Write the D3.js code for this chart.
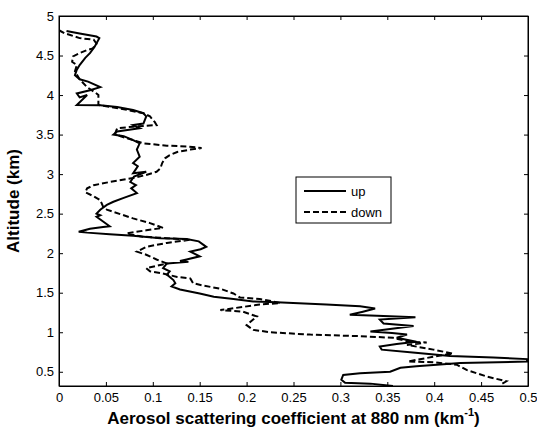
<!DOCTYPE html>
<html>
<head>
  <script type="text/javascript" src="https://cdn.jsdelivr.net/npm/d3@7/dist/d3.min.js"></script>
  <style>
    body { margin: 0; background: #fff; }
    svg { font-family: 'Liberation Sans', Arial, sans-serif; }
  </style>
</head>
<body>
  <svg width="537" height="433"></svg>
<script>
  // "up" profile: scattering coefficient (km-1) and altitude (km), top to bottom
  const upX = [0.008, 0.022, 0.040, 0.043, 0.038, 0.033, 0.028, 0.022, 0.019, 0.017, 0.022, 0.031, 0.044, 0.033, 0.019, 0.022, 0.030, 0.019, 0.044, 0.062, 0.079, 0.090, 0.093, 0.090, 0.079, 0.086, 0.062, 0.058, 0.069, 0.079, 0.086, 0.083, 0.086, 0.079, 0.084, 0.079, 0.093, 0.080, 0.076, 0.082, 0.077, 0.083, 0.069, 0.058, 0.051, 0.044, 0.040, 0.044, 0.040, 0.047, 0.054, 0.047, 0.033, 0.021, 0.030, 0.054, 0.079, 0.108, 0.136, 0.149, 0.157, 0.151, 0.140, 0.150, 0.136, 0.129, 0.138, 0.115, 0.111, 0.118, 0.115, 0.122, 0.124, 0.120, 0.129, 0.150, 0.165, 0.186, 0.207, 0.232, 0.285, 0.321, 0.337, 0.324, 0.310, 0.339, 0.380, 0.342, 0.346, 0.378, 0.332, 0.355, 0.371, 0.360, 0.381, 0.360, 0.342, 0.344, 0.380, 0.417, 0.463, 0.499, 0.499, 0.428, 0.381, 0.364, 0.353, 0.321, 0.303, 0.301, 0.305, 0.332, 0.356];
  const upY = [4.81, 4.78, 4.74, 4.72, 4.61, 4.53, 4.47, 4.38, 4.32, 4.25, 4.20, 4.17, 4.10, 4.06, 4.02, 3.97, 4.00, 3.875, 3.87, 3.85, 3.81, 3.77, 3.73, 3.64, 3.62, 3.58, 3.54, 3.50, 3.48, 3.43, 3.39, 3.31, 3.22, 3.14, 3.10, 3.01, 3.03, 2.97, 2.90, 2.86, 2.82, 2.76, 2.70, 2.65, 2.61, 2.55, 2.50, 2.48, 2.46, 2.40, 2.34, 2.33, 2.31, 2.27, 2.26, 2.24, 2.22, 2.19, 2.18, 2.15, 2.08, 2.05, 2.02, 1.96, 1.92, 1.90, 1.89, 1.87, 1.81, 1.77, 1.73, 1.66, 1.62, 1.58, 1.54, 1.49, 1.45, 1.42, 1.39, 1.38, 1.35, 1.33, 1.30, 1.26, 1.22, 1.21, 1.19, 1.16, 1.11, 1.08, 1.01, 0.99, 0.97, 0.93, 0.88, 0.85, 0.82, 0.78, 0.74, 0.70, 0.68, 0.66, 0.63, 0.61, 0.57, 0.55, 0.50, 0.48, 0.46, 0.40, 0.36, 0.35, 0.32];

  // "down" profile
  const downX = [0.000, 0.006, 0.012, 0.022, 0.037, 0.040, 0.036, 0.030, 0.022, 0.015, 0.014, 0.019, 0.017, 0.022, 0.030, 0.040, 0.042, 0.042, 0.065, 0.090, 0.097, 0.102, 0.104, 0.079, 0.062, 0.060, 0.065, 0.079, 0.090, 0.115, 0.136, 0.152, 0.140, 0.126, 0.118, 0.113, 0.110, 0.108, 0.104, 0.093, 0.079, 0.054, 0.037, 0.030, 0.028, 0.037, 0.044, 0.047, 0.051, 0.079, 0.097, 0.111, 0.093, 0.072, 0.088, 0.115, 0.140, 0.115, 0.093, 0.083, 0.093, 0.104, 0.115, 0.104, 0.093, 0.097, 0.108, 0.126, 0.140, 0.143, 0.154, 0.172, 0.186, 0.193, 0.214, 0.228, 0.236, 0.214, 0.172, 0.196, 0.211, 0.207, 0.200, 0.207, 0.225, 0.268, 0.321, 0.356, 0.374, 0.392, 0.371, 0.399, 0.420, 0.399, 0.372, 0.399, 0.424, 0.435, 0.456, 0.477, 0.470];
  const downY = [4.82, 4.78, 4.76, 4.72, 4.70, 4.65, 4.59, 4.57, 4.53, 4.49, 4.42, 4.38, 4.30, 4.20, 4.10, 4.02, 4.00, 3.875, 3.83, 3.77, 3.73, 3.66, 3.62, 3.60, 3.58, 3.52, 3.48, 3.43, 3.39, 3.36, 3.35, 3.33, 3.31, 3.28, 3.24, 3.20, 3.14, 3.07, 3.03, 2.99, 2.95, 2.90, 2.86, 2.82, 2.77, 2.72, 2.67, 2.59, 2.55, 2.44, 2.38, 2.32, 2.29, 2.25, 2.21, 2.19, 2.17, 2.13, 2.08, 2.02, 1.98, 1.92, 1.87, 1.84, 1.81, 1.77, 1.75, 1.70, 1.68, 1.62, 1.59, 1.55, 1.49, 1.44, 1.42, 1.39, 1.37, 1.35, 1.28, 1.26, 1.20, 1.16, 1.09, 1.03, 1.00, 0.97, 0.95, 0.93, 0.88, 0.87, 0.84, 0.78, 0.73, 0.69, 0.63, 0.62, 0.59, 0.52, 0.44, 0.38, 0.33];

  const xTicks = [0, 0.05, 0.1, 0.15, 0.2, 0.25, 0.3, 0.35, 0.4, 0.45, 0.5];
  const yTicks = [0.5, 1, 1.5, 2, 2.5, 3, 3.5, 4, 4.5, 5];
  const seriesNames = ['up', 'down'];

  const plotLeft = 59, plotRight = 528, plotTop = 16, plotBottom = 386;

  const svg = d3.select('svg');

  const xScale = d3.scaleLinear().domain([0, 0.5]).range([plotLeft, plotRight]);
  const yScale = d3.scaleLinear().domain([0.32, 5]).range([plotBottom, plotTop]);

  const fmt = d => String(d);

  // axes with inward ticks
  svg.append('g')
    .attr('transform', `translate(0, ${plotBottom})`)
    .call(d3.axisBottom(xScale).tickValues(xTicks).tickFormat(fmt).tickSizeInner(-4).tickSizeOuter(0).tickPadding(7))
  svg.append('g')
    .attr('transform', `translate(0, ${plotTop})`)
    .call(d3.axisTop(xScale).tickValues(xTicks).tickFormat('').tickSizeInner(-4).tickSizeOuter(0))
  svg.append('g')
    .attr('transform', `translate(${plotLeft}, 0)`)
    .call(d3.axisLeft(yScale).tickValues(yTicks).tickFormat(fmt).tickSizeInner(-4).tickSizeOuter(0).tickPadding(5))
  svg.append('g')
    .attr('transform', `translate(${plotRight}, 0)`)
    .call(d3.axisRight(yScale).tickValues(yTicks).tickFormat('').tickSizeInner(-4).tickSizeOuter(0))

  svg.selectAll('.domain').attr('stroke', '#000');
  svg.selectAll('.tick line').attr('stroke', '#000');
  svg.selectAll('.tick text')
    .attr('fill', '#000')
    .style('font-size', '13px')
    .style('font-family', "'Liberation Sans', Arial, sans-serif");

  svg.append('rect')
    .attr('x', plotLeft).attr('y', plotTop)
    .attr('width', plotRight - plotLeft).attr('height', plotBottom - plotTop)
    .attr('fill', 'none').attr('stroke', '#000').attr('stroke-width', 1);

  const line = d3.line()
    .x(d => xScale(d[0]))
    .y(d => yScale(d[1]));

  svg.append('defs').append('clipPath').attr('id', 'clip')
    .append('rect').attr('x', plotLeft).attr('y', plotTop)
    .attr('width', plotRight - plotLeft).attr('height', plotBottom - plotTop);

  const plot = svg.append('g').attr('clip-path', 'url(#clip)');

  plot.append('path')
    .datum(downX.map((v, i) => [v, downY[i]]))
    .attr('d', line)
    .attr('fill', 'none')
    .attr('stroke', '#000')
    .attr('stroke-width', 2)
    .attr('stroke-dasharray', '6,3');

  plot.append('path')
    .datum(upX.map((v, i) => [v, upY[i]]))
    .attr('d', line)
    .attr('fill', 'none')
    .attr('stroke', '#000')
    .attr('stroke-width', 2);

  // legend
  const legend = svg.append('g').attr('transform', 'translate(296, 177)');
  legend.append('rect')
    .attr('width', 95).attr('height', 46)
    .attr('fill', '#fff').attr('stroke', '#000');
  seriesNames.forEach((name, i) => {
    const y = 14 + i * 21;
    legend.append('line')
      .attr('x1', 8).attr('x2', 50).attr('y1', y).attr('y2', y)
      .attr('stroke', '#000').attr('stroke-width', 2)
      .attr('stroke-dasharray', i === 0 ? null : '6,3');
    legend.append('text')
      .attr('x', 55).attr('y', y + 4.5)
      .style('font-size', '13px')
      .text(name);
  });

  // axis labels
  const xl = svg.append('text')
    .attr('x', (plotLeft + plotRight) / 2)
    .attr('y', 424)
    .attr('text-anchor', 'middle')
    .style('font-size', '17px')
    .style('font-weight', 'bold');
  xl.append('tspan').text('Aerosol scattering coefficient at 880 nm (km');
  xl.append('tspan').attr('dy', -8).style('font-size', '11px').text('-1');
  xl.append('tspan').attr('dy', 8).text(')');

  svg.append('text')
    .attr('transform', `translate(19, ${(plotTop + plotBottom) / 2}) rotate(-90)`)
    .attr('text-anchor', 'middle')
    .style('font-size', '17px')
    .style('font-weight', 'bold')
    .text('Altitude (km)');
</script>
</body>
</html>
